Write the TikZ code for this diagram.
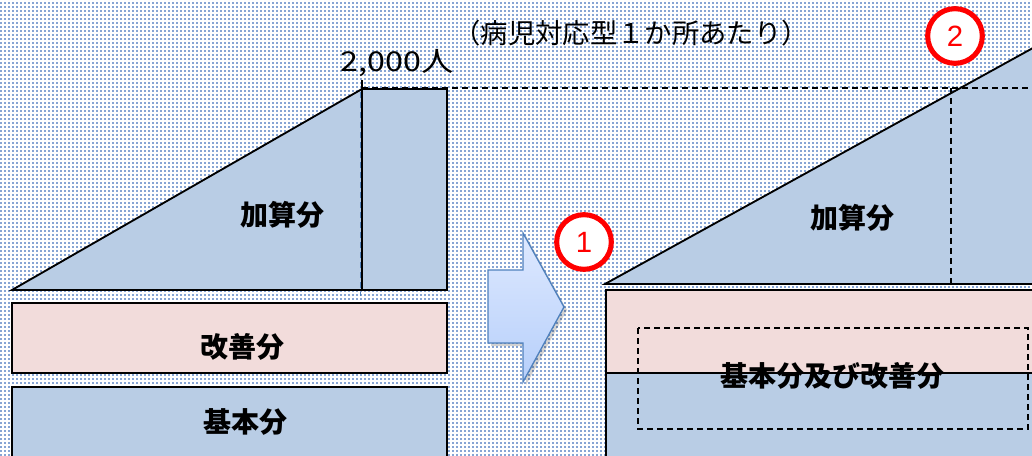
\documentclass[tikz,border=0pt]{standalone}
\usepackage{fontspec}
\newfontfamily\jp{Noto Sans CJK JP}
\newfontfamily\lat{Liberation Sans}
\usetikzlibrary{patterns}
\pgfdeclarepatternformonly{bgdots}{\pgfqpoint{0pt}{0pt}}{\pgfqpoint{1.5pt}{1.5pt}}{\pgfqpoint{3pt}{3pt}}{\pgfpathrectangle{\pgfqpoint{0pt}{0pt}}{\pgfqpoint{1.5pt}{1.5pt}}\pgfusepath{fill}}
\definecolor{dotc}{RGB}{135,165,212}
\definecolor{bluef}{RGB}{185,205,229}
\definecolor{pinkf}{RGB}{242,220,219}
\definecolor{arrtop}{RGB}{222,233,255}
\definecolor{arrbot}{RGB}{182,207,250}
\definecolor{arredge}{RGB}{79,129,189}
\definecolor{numred}{RGB}{255,0,0}
\tikzset{
  bluepart/.style={fill=bluef, draw=black, line width=1.4pt},
  pinkpart/.style={fill=pinkf, draw=black, line width=1.4pt},
  guide/.style={draw=black, line width=1.4pt, dash pattern=on 4.5pt off 3pt},
  lbl/.style={font=\jp\bfseries\fontsize{21}{25}\selectfont, inner sep=0pt},
  note/.style={font=\jp\fontsize{20.5}{24}\selectfont, inner sep=0pt},
  numcirc/.style={circle, draw=numred, fill=white, line width=3.8pt, minimum size=41pt, inner sep=0pt, text=numred, font=\lat\fontsize{22}{24}\selectfont}
}
\begin{document}
\begin{tikzpicture}[x=0.75pt, y=-0.75pt]
\useasboundingbox (0,0) rectangle (1032,456);
\begin{scope}
\clip (0,0) rectangle (1032,456);
\fill[white] (0,0) rectangle (1032,456);
\fill[pattern=bgdots, pattern color=dotc] (0,0) rectangle (1032,456);

% left side
\filldraw[bluepart] (12,290) -- (362,89) -- (362,290) -- cycle;
\filldraw[bluepart] (362,89) rectangle (447,290);
\filldraw[pinkpart] (12,303) rectangle (447,373);
\filldraw[bluepart] (12,387) rectangle (447,470);
\draw[black, line width=1.4pt] (362,80) -- (362,89);
\draw[draw=arredge, line width=1.4pt, dash pattern=on 4.5pt off 3pt] (360.5,92) -- (360.5,296);

% right side
\filldraw[bluepart] (605,284) -- (1100,11) -- (1100,284) -- cycle;
\filldraw[pinkpart] (606,290) rectangle (1045,373);
\fill[bluef] (606,373) rectangle (1045,470);
\draw[black, line width=1.4pt] (606,373) -- (1045,373);
\draw[black, line width=1.4pt] (606,290) -- (606,470);

% guides
\coordinate (g1) at (362,88);
\coordinate (g2) at (1045,88);
\coordinate (g3) at (951,88);
\coordinate (g4) at (951,284);
\draw[guide] (g1) -- (g2);
\draw[guide] (g3) -- (g4);
\draw[guide] (638,328) rectangle (1028,429);

% arrow with soft shadow
\fill[black, opacity=0.18]
  (491,273) -- (526,273) -- (526,236) -- (567,310) -- (526,385) -- (526,346) -- (491,346) -- cycle;
\shade[top color=arrtop, bottom color=arrbot, draw=arredge, line width=1pt]
  (488,270) -- (523,270) -- (523,233) -- (564,307) -- (523,382) -- (523,343) -- (488,343) -- cycle;

% labels
\node[lbl] (kasanL) at (282,215) {加算分};
\node[lbl] (kaizenL) at (242,347) {改善分};
\node[lbl] (kihonL) at (245,422) {基本分};
\node[lbl] (kasanR) at (852,218) {加算分};
\node[lbl] (kihonR) at (832,376) {基本分及び改善分};
\node[note] (num) at (397,63) {\scalebox{1.18}[1]{2,000人}};
\node[note] (cap) at (631,33) {（病児対応型１か所あたり）};

\node[numcirc] (c1) at (584,242) {1};
\node[numcirc] (c2) at (955,36) {2};
\end{scope}
\end{tikzpicture}
\end{document}
